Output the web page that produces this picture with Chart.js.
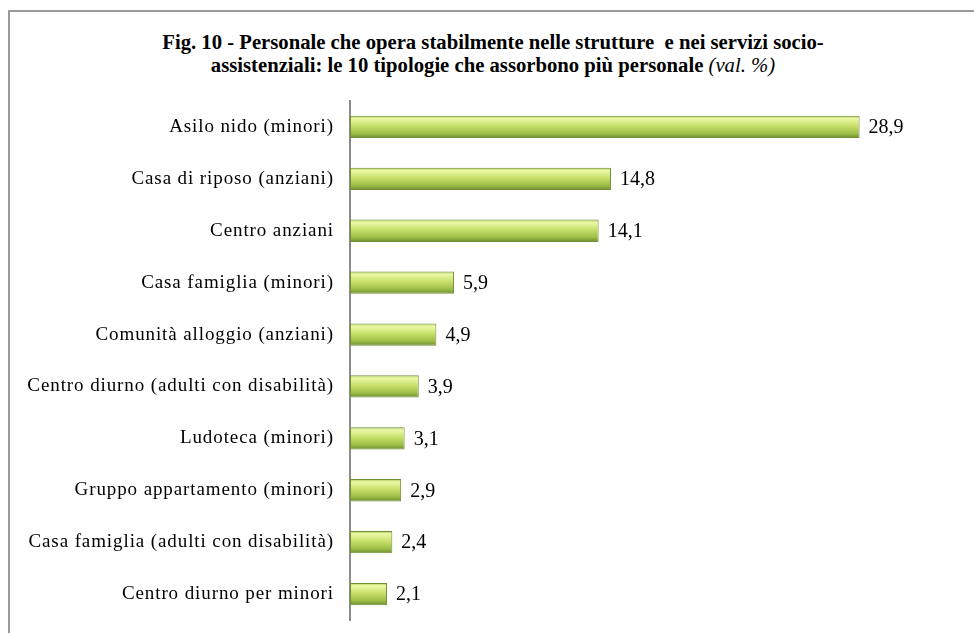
<!DOCTYPE html>
<html>
<head>
<meta charset="utf-8">
<script src="https://cdn.jsdelivr.net/npm/chart.js@4"></script>
<style>
  html, body { margin: 0; padding: 0; background: #fff; width: 974px; height: 633px; overflow: hidden; }
  #frame { position: absolute; left: 8px; top: 10px; width: 980px; height: 640px;
           border-left: 2px solid #9a9a9a; border-top: 2px solid #9a9a9a; }
  #wrap { position: absolute; left: 0; top: 0; width: 964px; height: 621px; }
  #title { position: absolute; left: 0; top: 19px; width: 966px; text-align: center;
           font-family: "Liberation Serif", "Times New Roman", serif; font-weight: bold;
           font-size: 20.7px; line-height: 23px; color: #000; }
  #title i { font-weight: normal; }
</style>
</head>
<body>
<div id="frame">
  <div id="title">Fig. 10 - Personale che opera stabilmente nelle strutture &nbsp;e nei servizi socio-<br>assistenziali: le 10 tipologie che assorbono più personale <i>(val. %)</i></div>
  <div id="wrap"><canvas id="chart"></canvas></div>
</div>
<script>
  // categorie e valori (val. %)
  const categories = [
    'Asilo nido (minori)',
    'Casa di riposo (anziani)',
    'Centro anziani',
    'Casa famiglia (minori)',
    'Comunità alloggio (anziani)',
    'Centro diurno (adulti con disabilità)',
    'Ludoteca (minori)',
    'Gruppo appartamento (minori)',
    'Casa famiglia (adulti con disabilità)',
    'Centro diurno per minori'
  ];
  const values = [28.9, 14.8, 14.1, 5.9, 4.9, 3.9, 3.1, 2.9, 2.4, 2.1];

  const ctx = document.getElementById('chart').getContext('2d');

  // sfumatura verticale per ogni barra
  function barGradient(context) {
    const chart = context.chart;
    const y = chart.scales.y;
    if (!y || context.dataIndex === undefined) return '#b5d55a';
    const c = y.getPixelForValue(context.dataIndex);
    if (!isFinite(c)) return '#b5d55a';
    const g = chart.ctx.createLinearGradient(0, c - 11, 0, c + 11);
    g.addColorStop(0, '#a8c65a');
    g.addColorStop(0.12, '#ecf9a6');
    g.addColorStop(0.45, '#c8e06c');
    g.addColorStop(0.8, '#9dbd46');
    g.addColorStop(1, '#6e8c30');
    return g;
  }

  // spaziatura delle lettere come nell'originale
  const spacing = {
    id: 'spacing',
    beforeDraw(chart) { chart.ctx.letterSpacing = '0.9px'; }
  };

  // etichette dei valori alla fine delle barre
  const valueLabels = {
    id: 'valueLabels',
    afterDatasetsDraw(chart) {
      const c = chart.ctx;
      const meta = chart.getDatasetMeta(0);
      c.save();
      c.letterSpacing = '0px';
      c.font = '20px "Liberation Serif", serif';
      c.fillStyle = '#000';
      c.textBaseline = 'middle';
      c.textAlign = 'left';
      meta.data.forEach((bar, i) => {
        c.fillText(values[i].toFixed(1).replace('.', ','), bar.x + 9, bar.y + 1);
      });
      c.restore();
    }
  };

  new Chart(ctx, {
    type: 'bar',
    data: {
      labels: categories,
      datasets: [{
        data: values,
        backgroundColor: barGradient,
        borderColor: '#728f36',
        borderWidth: 1,
        borderSkipped: false,
        barPercentage: 0.43,
        categoryPercentage: 1
      }]
    },
    options: {
      indexAxis: 'y',
      responsive: true,
      maintainAspectRatio: false,
      animation: false,
      layout: { padding: { top: 89, bottom: 13, right: 95, left: 0 } },
      scales: {
        x: {
          display: false,
          min: 0,
          max: 30
        },
        y: {
          afterFit(scale) {
            scale.width = 340;
            scale.paddingTop = 0;
            scale.paddingBottom = 0;
          },
          grid: { display: false, drawTicks: false },
          border: { display: true, color: '#8c8c8c', width: 2 },
          ticks: {
            padding: 16,
            color: '#000',
            font: { family: '"Liberation Serif", serif', size: 19 }
          }
        }
      },
      plugins: {
        legend: { display: false },
        title: { display: false },
        tooltip: { enabled: false }
      }
    },
    plugins: [spacing, valueLabels]
  });
</script>
</body>
</html>
